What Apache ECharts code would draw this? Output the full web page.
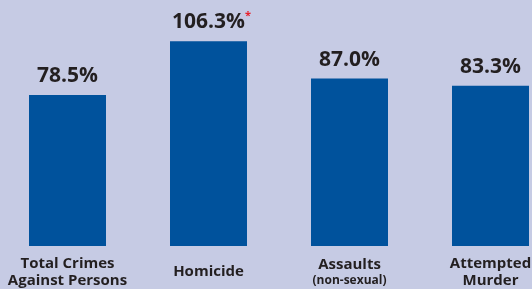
<!DOCTYPE html>
<html>
<head>
<meta charset="utf-8">
<script src="https://cdn.jsdelivr.net/npm/echarts@6/dist/echarts.min.js"></script>
<style>
    html, body { margin: 0; padding: 0; background: #c6cbe4; }
    #chart { width: 532px; height: 289px; }
</style>
</head>
<body>
<div id="chart"></div>
<script>
    // categories and values
    var categories = ['Total Crimes\nAgainst Persons', 'Homicide', 'Assaults\n(non-sexual)', 'Attempted\nMurder'];
    var values = [78.5, 106.3, 87.0, 83.3];
    var flagged = [false, true, false, false];   // red asterisk after the label

    var myChart = echarts.init(document.getElementById('chart'));
    var font = '"Open Sans", "Noto Sans", sans-serif';

    var data = [];
    for (var i = 0; i < values.length; i++) {
        data.push({ value: values[i], flag: flagged[i] });
    }

    var option = {
        backgroundColor: '#c6cbe4',
        animation: false,
        grid: { left: -3, width: 564, top: 15, bottom: 43, containLabel: false, outerBoundsMode: 'none' },
        xAxis: {
            type: 'category',
            data: categories,
            axisLine: { show: false },
            axisTick: { show: false },
            axisLabel: {
                interval: 0,
                margin: 26,
                verticalAlign: 'middle',
                color: '#231f20',
                fontFamily: font,
                fontWeight: 'bold',
                fontSize: 15,
                lineHeight: 17,
                formatter: function (v) {
                    if (v.indexOf('(non-sexual)') >= 0) {
                        return '{a|Assaults}\n{s|(non-sexual)}';
                    }
                    return v;
                },
                rich: {
                    a: { fontFamily: font, fontWeight: 'bold', fontSize: 15, lineHeight: 17, color: '#231f20' },
                    s: { fontFamily: font, fontWeight: 'bold', fontSize: 12, lineHeight: 15, color: '#231f20' }
                }
            }
        },
        yAxis: {
            type: 'value',
            min: 0,
            max: 120,
            show: false,
            splitLine: { show: false }
        },
        series: [{
            type: 'bar',
            data: data,
            barWidth: 77,
            itemStyle: { color: '#00529c' },
            label: {
                show: true,
                position: 'top',
                distance: 8,
                formatter: function (p) {
                    var txt = p.value.toFixed(1) + '%';
                    if (p.data.flag) {
                        return '{pad|}{v|' + txt + '}{r|*}';
                    }
                    return '{v|' + txt + '}';
                },
                rich: {
                    v: { fontFamily: font, fontWeight: 'bold', fontSize: 21, color: '#231f20' },
                    pad: { width: 6 },
                    r: { fontFamily: font, fontWeight: 'bold', fontSize: 11, color: '#e8212b', verticalAlign: 'top', padding: [0, 0, 12, 0] }
                }
            }
        }]
    };

    myChart.setOption(option);
</script>
</body>
</html>
